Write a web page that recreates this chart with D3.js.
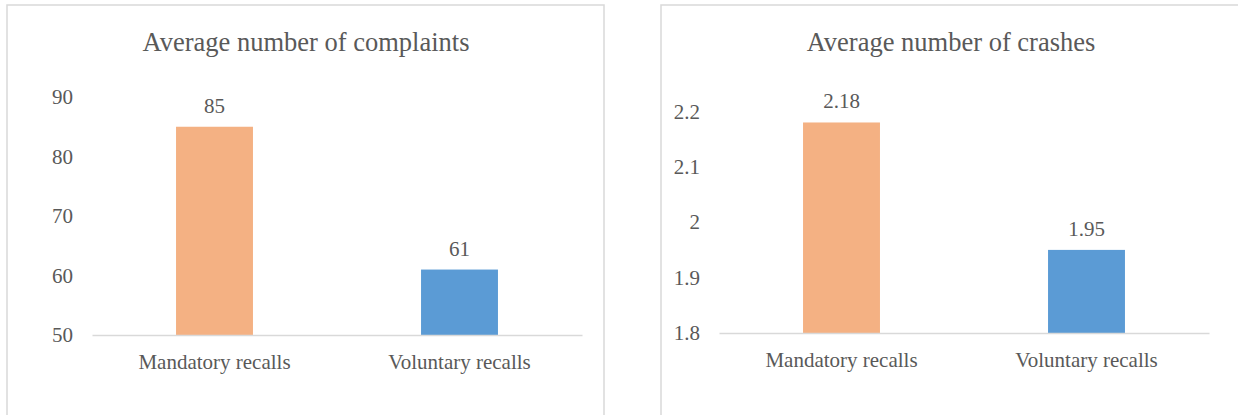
<!DOCTYPE html>
<html>
<head>
<meta charset="utf-8">
<script src="https://cdn.jsdelivr.net/npm/d3@7"></script>
<style>
  body { margin: 0; background: #fff; }
</style>
</head>
<body>
<script>
// data
const categories = ["Mandatory recalls", "Voluntary recalls"]
const barColors = ["#F4B183", "#5B9BD5"]

const complaintsTitle = "Average number of complaints"
const complaintsValues = [85, 61]
const complaintsTicks = [50, 60, 70, 80, 90]

const crashesTitle = "Average number of crashes"
const crashesValues = [2.18, 1.95]
const crashesTicks = [1.8, 1.9, 2, 2.1, 2.2]

const FONT = "'Liberation Serif', 'Times New Roman', serif"
const TEXT_COLOR = "#595959"

const width = 1238, height = 415

const svg = d3.select("body").append("svg")
    .attr("width", width)
    .attr("height", height)
    .style("font-family", FONT)

function BarPanel(opts) {
  const g = svg.append("g")

  // panel frame (bottom runs off the picture)
  g.append("rect")
    .attr("x", opts.box[0])
    .attr("y", opts.box[1])
    .attr("width", opts.box[2])
    .attr("height", opts.box[3])
    .attr("fill", "none")
    .attr("stroke", "#D9D9D9")
    .attr("stroke-width", 1.5)

  g.append("text")
    .attr("x", opts.titleX)
    .attr("y", 51)
    .attr("text-anchor", "middle")
    .attr("font-size", 26.5)
    .attr("fill", TEXT_COLOR)
    .style("font-family", FONT)
    .text(opts.title)

  const x = d3.scaleBand()
    .domain(categories)
    .range(opts.xRange)
    .paddingInner(0.686)
    .paddingOuter(0.343)

  const y = d3.scaleLinear()
    .domain(d3.extent(opts.ticks))
    .range(opts.yRange)

  const yAxis = g.append("g")
    .attr("transform", `translate(${opts.xRange[0]},0)`)
    .call(d3.axisLeft(y).tickValues(opts.ticks).tickSize(0).tickPadding(19).tickFormat(d3.format("")))
  yAxis.attr("font-family", null).style("font-family", FONT)
  yAxis.select(".domain").remove()
  yAxis.selectAll("text")
    .attr("font-size", 21)
    .attr("fill", TEXT_COLOR)
    .style("font-family", FONT)

  g.selectAll(".bar")
    .data(opts.values)
    .join("rect")
      .attr("class", "bar")
      .attr("x", (d, i) => x(categories[i]))
      .attr("y", d => y(d))
      .attr("width", x.bandwidth())
      .attr("height", d => y.range()[0] - y(d))
      .attr("fill", (d, i) => barColors[i])

  g.selectAll(".val")
    .data(opts.values)
    .join("text")
      .attr("class", "val")
      .attr("x", (d, i) => x(categories[i]) + x.bandwidth() / 2)
      .attr("y", d => y(d) - 14)
      .attr("text-anchor", "middle")
      .attr("font-size", 21)
      .attr("fill", TEXT_COLOR)
      .style("font-family", FONT)
      .text(d => d)

  const xAxis = g.append("g")
    .attr("transform", `translate(0,${opts.yRange[0]})`)
    .call(d3.axisBottom(x).tickSize(0).tickPadding(19))
  xAxis.attr("font-family", null).style("font-family", FONT)
  xAxis.select(".domain")
    .attr("stroke", "#D9D9D9")
    .attr("stroke-width", 1.5)
  xAxis.selectAll("text")
    .attr("font-size", 21)
    .attr("fill", TEXT_COLOR)
    .style("font-family", FONT)
}

BarPanel({
  box: [7, 5, 597, 430],
  title: complaintsTitle,
  titleX: 306,
  values: complaintsValues,
  ticks: complaintsTicks,
  xRange: [92, 582],
  yRange: [335, 97]
})

BarPanel({
  box: [661, 5, 600, 430],
  title: crashesTitle,
  titleX: 951,
  values: crashesValues,
  ticks: crashesTicks,
  xRange: [719, 1209],
  yRange: [333, 111.4]
})
</script>
</body>
</html>
